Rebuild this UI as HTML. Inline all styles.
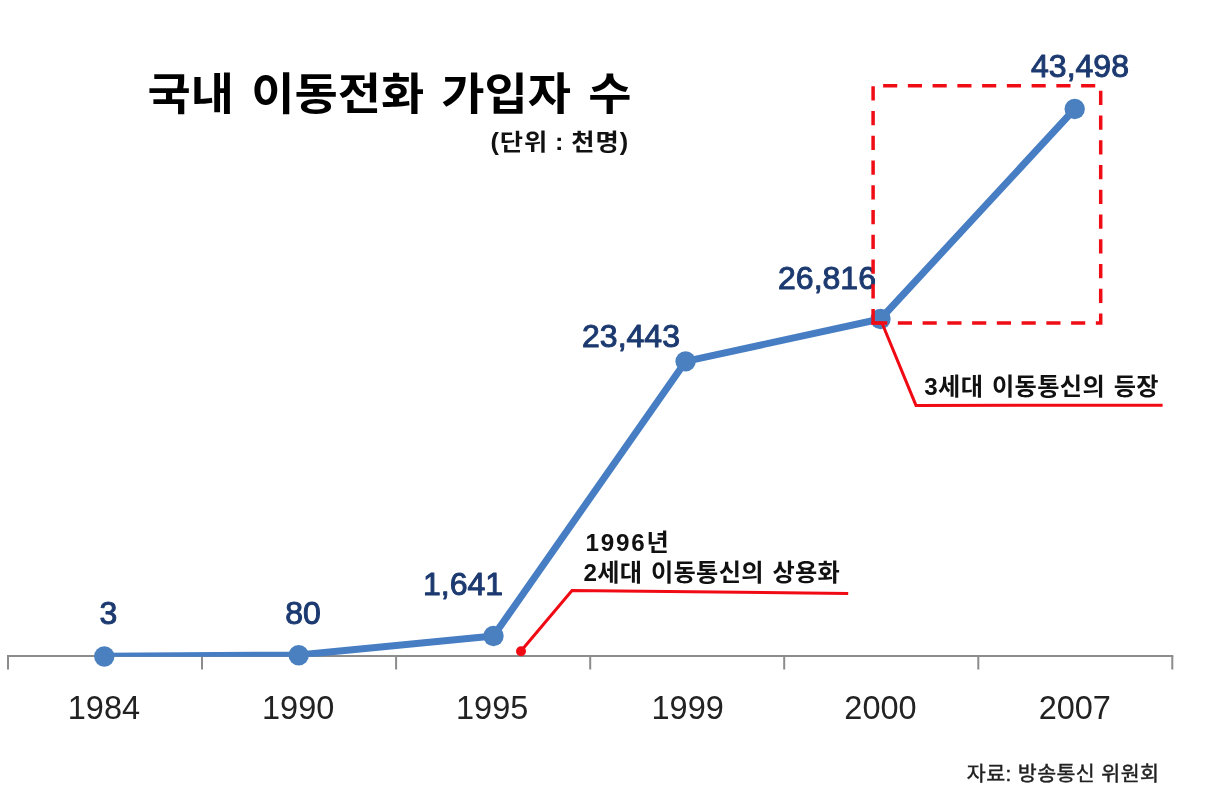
<!DOCTYPE html>
<html lang="ko">
<head>
<meta charset="utf-8">
<title>국내 이동전화 가입자 수</title>
<style>
html,body{margin:0;padding:0;background:#fff;}
body{width:1208px;height:811px;overflow:hidden;}
svg{display:block;}
text{font-family:"Liberation Sans","Noto Sans CJK KR","NanumGothic",sans-serif;}
.title{font-size:44.5px;word-spacing:4px;font-weight:bold;fill:#000;}
.unit{font-size:23px;letter-spacing:.85px;word-spacing:-1px;font-weight:bold;fill:#111;}
.val{font-size:32px;font-weight:normal;fill:#1c3a70;stroke:#1c3a70;stroke-width:1px;stroke-linejoin:round;}
.yr{font-size:32.5px;fill:#222;}
.note{font-size:23.5px;letter-spacing:.5px;word-spacing:1.5px;font-weight:bold;fill:#111;}
.src{font-size:20px;letter-spacing:.4px;fill:#222;stroke:#222;stroke-width:.45px;}
</style>
</head>
<body>
<svg width="1208" height="811" viewBox="0 0 1208 811">
  <defs>
    <clipPath id="plot"><rect x="0" y="0" width="1208" height="656.7"/></clipPath>
  </defs>
  <rect width="1208" height="811" fill="#ffffff"/>

  <!-- axis -->
  <g stroke="#8c8c8c" stroke-width="2" fill="none" stroke-linecap="butt">
    <path d="M7 656 H1173.3"/>
    <path d="M8 656 V669.5 M202 656 V669.5 M396.1 656 V669.5 M590.2 656 V669.5 M784.2 656 V669.5 M978.3 656 V669.5 M1172.3 656 V669.5"/>
  </g>

  <!-- series line -->
  <g clip-path="url(#plot)">
    <polyline points="104.3,656.3 298.7,655 493.5,636 685.6,361.4 880.5,319 1074.7,109" fill="none" stroke="#467dc3" stroke-width="7" stroke-linejoin="round" stroke-linecap="round"/>
  </g>
  <g fill="#4a80c0">
    <circle cx="104.3" cy="656.5" r="10.2"/>
    <circle cx="298.7" cy="655.2" r="10.2"/>
    <circle cx="493.5" cy="636" r="10.2"/>
    <circle cx="685.6" cy="361.4" r="10.2"/>
    <circle cx="880.5" cy="319" r="10.2"/>
    <circle cx="1074.7" cy="109" r="10.2"/>
  </g>

  <!-- title -->
  <text class="title" transform="translate(147.5,110) scale(1.056,1)" id="t_title">국내 이동전화 가입자 수</text>
  <text class="unit" transform="translate(490.5,149.6) scale(1.1,1)" id="t_unit">(단위 : 천명)</text>

  <!-- value labels -->
  <text class="val" x="108.5" y="624" text-anchor="middle" id="v1">3</text>
  <text class="val" x="303" y="623.5" text-anchor="middle" id="v2">80</text>
  <text class="val" x="463" y="594.5" text-anchor="middle" id="v3">1,641</text>
  <text class="val" x="631" y="346.5" text-anchor="middle" id="v4">23,443</text>
  <text class="val" x="827" y="289" text-anchor="middle" id="v5">26,816</text>
  <text class="val" x="1080" y="77" text-anchor="middle" id="v6">43,498</text>

  <!-- year labels -->
  <text class="yr" x="103.9" y="719.3" text-anchor="middle" id="y1">1984</text>
  <text class="yr" x="298.2" y="719.3" text-anchor="middle" id="y2">1990</text>
  <text class="yr" x="492.2" y="719.3" text-anchor="middle" id="y3">1995</text>
  <text class="yr" x="687.7" y="719.3" text-anchor="middle" id="y4">1999</text>
  <text class="yr" x="880.5" y="719.3" text-anchor="middle" id="y5">2000</text>
  <text class="yr" x="1074.8" y="719.3" text-anchor="middle" id="y6">2007</text>

  <!-- dashed highlight box -->
  <path d="M873.1 322.9 H1100.7 V85.7 H873.1 Z" fill="none" stroke="#f00c14" stroke-width="3.5" stroke-dasharray="14.15 10.6"/>

  <!-- callouts -->
  <g fill="none" stroke="#f00a14" stroke-width="3" stroke-linejoin="miter">
    <polyline points="521,651 572,590.5 848.2,593.4"/>
    <polyline points="871.4,322.9 882,322.9 916,405.4 1162.6,405.2"/>
  </g>
  <circle cx="521" cy="651.3" r="5" fill="#f00a14"/>

  <!-- notes -->
  <text class="note" transform="translate(585.6,551) scale(1.03,1)" id="n1"><tspan style="letter-spacing:1.7px">1996</tspan>년</text>
  <text class="note" transform="translate(583.5,581) scale(1.03,1)" style="letter-spacing:.3px" id="n2">2세대 이동통신의 상용화</text>
  <text class="note" transform="translate(924.3,395) scale(1.03,1)" style="letter-spacing:.35px" id="n3">3세대 이동통신의 등장</text>

  <!-- source -->
  <text class="src" transform="translate(966.8,781) scale(1.03,1)" id="src">자료: 방송통신 위원회</text>
</svg>
</body>
</html>
